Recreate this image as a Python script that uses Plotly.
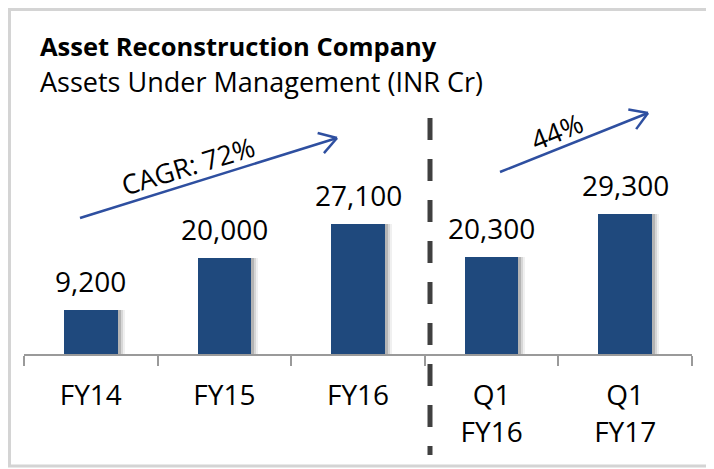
import math
import plotly.graph_objects as go

# ---- data ----
categories = ["FY14", "FY15", "FY16", "Q1 FY16", "Q1 FY17"]
tick_labels = ["FY14", "FY15", "FY16", "Q1<br>FY16", "Q1<br>FY17"]
aum_values = [9200, 20000, 27100, 20300, 29300]
value_labels = ["9,200", "20,000", "27,100", "20,300", "29,300"]
growth_labels = ["CAGR: 72%", "44%"]

title_text = "Asset Reconstruction Company"
subtitle_text = "Assets Under Management (INR Cr)"

# ---- layout geometry (pixels; page body has an 8px margin) ----
OFF = 8
W, H = 714 - OFF, 469 - OFF
ML, MR, MT, MB = 16, 22, 92, 115
PW = W - ML - MR
PH = H - MT - MB
BASE_S = OFF + H - MB          # baseline in screen pixels
FONT = "Open Sans"
BAR_COLOR = "#1F497D"
ARROW_COLOR = "#2E4FA0"


def px(x):
    """screen x pixel -> paper coordinate"""
    return (x - OFF - ML) / PW


def py(y):
    """screen y pixel -> paper coordinate"""
    return (BASE_S - y) / PH


fig = go.Figure()

# soft shadows behind bars
for dx, alpha in [(7, 0.06), (5, 0.10), (3, 0.16)]:
    fig.add_trace(go.Bar(
        x=categories, y=aum_values,
        width=0.4, offset=-0.2 + dx / (PW / 5),
        marker=dict(color=f"rgba(0,0,0,{alpha})", line=dict(width=0)),
        hoverinfo="skip", showlegend=False,
    ))

fig.add_trace(go.Bar(
    x=categories, y=aum_values,
    width=0.4, offset=-0.2,
    marker=dict(color=BAR_COLOR, line=dict(width=0)),
    showlegend=False,
))

annotations = []
for c, v, t in zip(categories, aum_values, value_labels):
    annotations.append(dict(
        x=c, y=v, xref="x", yref="y", text=t, showarrow=False,
        xanchor="center", yanchor="middle", yshift=29,
        font=dict(family=FONT, size=28, color="#000000"),
    ))

annotations.append(dict(
    x=px(39), y=py(46), xref="paper", yref="paper", text="<b>" + title_text + "</b>",
    showarrow=False, xanchor="left", yanchor="middle", borderpad=0,
    font=dict(family=FONT, size=25.5, color="#000000"),
))
annotations.append(dict(
    x=px(39), y=py(82), xref="paper", yref="paper", text=subtitle_text,
    showarrow=False, xanchor="left", yanchor="middle", borderpad=0,
    font=dict(family=FONT, size=27, color="#000000"),
))
annotations.append(dict(
    x=px(188), y=py(165), xref="paper", yref="paper", text=growth_labels[0],
    showarrow=False, textangle=-17, xanchor="center", yanchor="middle",
    font=dict(family=FONT, size=27, color="#000000"),
))
annotations.append(dict(
    x=px(556), y=py(131), xref="paper", yref="paper", text=growth_labels[1],
    showarrow=False, textangle=-22, xanchor="center", yanchor="middle",
    font=dict(family=FONT, size=27, color="#000000"),
))

shapes = []
# outer frame (right edge falls outside the picture)
shapes.append(dict(type="rect", xref="paper", yref="paper",
                   x0=px(9.5), x1=px(730), y0=py(466), y1=py(9.5),
                   line=dict(color="#D4D4D4", width=3), layer="below"))
# divider
shapes.append(dict(type="line", xref="paper", yref="paper",
                   x0=px(430), x1=px(430), y0=py(118), y1=py(455),
                   line=dict(color="#404040", width=5, dash="22px,19px")))


def arrow(x0, y0, x1, y1, head=20, spread=32):
    out = [dict(type="line", xref="paper", yref="paper",
                x0=px(x0), y0=py(y0), x1=px(x1), y1=py(y1),
                line=dict(color=ARROW_COLOR, width=2.5))]
    ang = math.atan2(y0 - y1, x0 - x1)
    for s in (-1, 1):
        a = ang + s * math.radians(spread)
        hx, hy = x1 + head * math.cos(a), y1 + head * math.sin(a)
        out.append(dict(type="line", xref="paper", yref="paper",
                        x0=px(x1), y0=py(y1), x1=px(hx), y1=py(hy),
                        line=dict(color=ARROW_COLOR, width=2.5)))
    return out


shapes += arrow(80, 218, 337, 138)
shapes += arrow(500, 172, 648, 113)

fig.update_layout(
    width=W, height=H,
    margin=dict(l=ML, r=MR, t=MT, b=MB),
    paper_bgcolor="white", plot_bgcolor="white",
    barmode="overlay", bargap=0,
    showlegend=False,
    annotations=annotations, shapes=shapes,
    xaxis=dict(
        type="category", tickmode="array", tickvals=categories, ticktext=tick_labels,
        tickson="boundaries", ticks="outside", ticklen=10, tickwidth=1.5,
        tickcolor="#9A9A9A", showline=True, linecolor="#9A9A9A", linewidth=1.5,
        showgrid=False, zeroline=False, range=[-0.5, 4.5],
        tickfont=dict(family=FONT, size=28, color="#000000"),
        ticklabelstandoff=16,
    ),
    yaxis=dict(visible=False, range=[0, 53100], showgrid=False, zeroline=False),
)

fig.write_html("out.html")
